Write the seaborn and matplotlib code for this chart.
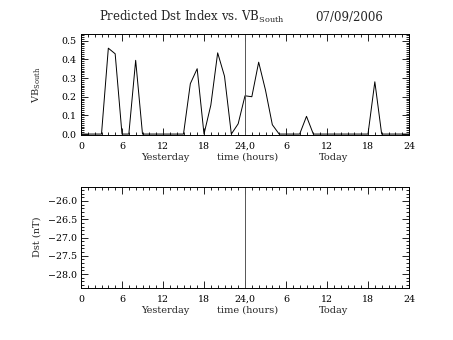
import numpy as np
import pandas as pd
import matplotlib
matplotlib.use("Agg")
import matplotlib.pyplot as plt
import seaborn as sns
from matplotlib.ticker import MultipleLocator, FixedLocator

# ---- data ----
hours = list(range(0, 49))
vb_south = [0, 0, 0, 0, 0.46, 0.43, 0, 0, 0.395, 0,
            0, 0, 0, 0, 0, 0, 0.27, 0.35, 0, 0.155,
            0.435, 0.31, 0, 0.055, 0.205, 0.20, 0.385, 0.235, 0.05, 0,
            0, 0, 0, 0.095, 0, 0, 0, 0, 0, 0,
            0, 0, 0, 0.28, 0, 0, 0, 0, 0]
x_tick_pos = [0, 6, 12, 18, 24, 30, 36, 42, 48]
x_tick_labels = ["0", "6", "12", "18", "24,0", "6", "12", "18", "24"]
top_yticks = [0.0, 0.1, 0.2, 0.3, 0.4, 0.5]
bot_yticks = [-26.0, -26.5, -27.0, -27.5, -28.0]
title_left = r"Predicted Dst Index vs. VB$_{\mathrm{South}}$"
title_date = "07/09/2006"

sns.set_style("ticks")
plt.rcParams['font.family'] = ['DejaVu Serif']
plt.rcParams['mathtext.fontset'] = 'custom'
plt.rcParams['mathtext.rm'] = 'DejaVu Serif'
plt.rcParams['mathtext.default'] = 'regular'

W, H = 453, 340
fig = plt.figure(figsize=(W / 100, H / 100), dpi=100)
left, right = 81, 409
ax1 = fig.add_axes([left / W, 1 - 135 / H, (right - left) / W, 101 / H])
ax2 = fig.add_axes([left / W, 1 - 288 / H, (right - left) / W, 101 / H])

df = pd.DataFrame({"hour": hours, "vb": vb_south})
sns.lineplot(data=df, x="hour", y="vb", ax=ax1, color="black", linewidth=0.7)

ax1.set_ylim(-0.005, 0.536)
ax2.set_ylim(-28.38, -25.62)

for ax in (ax1, ax2):
    ax.set_xlim(0, 48)
    ax.axvline(24, color="#555555", linewidth=0.7)
    ax.xaxis.set_major_locator(FixedLocator(x_tick_pos))
    ax.set_xticklabels(x_tick_labels)
    ax.xaxis.set_minor_locator(MultipleLocator(1))
    ax.tick_params(which="both", direction="in", top=True, right=True,
                   width=0.6, colors="black", labelsize=6.8)
    ax.tick_params(which="major", length=5)
    ax.tick_params(which="minor", length=2.5)
    ax.tick_params(axis="x", pad=5)
    ax.tick_params(axis="y", pad=3)
    for s in ax.spines.values():
        s.set_linewidth(0.7)
        s.set_color("black")
    ax.set_xlabel("")
    ax.set_ylabel("")
    tr = ax.get_xaxis_transform()
    ax.text(12.4, -0.22, "Yesterday", transform=tr, ha="center", va="center", fontsize=7)
    ax.text(24.4, -0.22, "time (hours)", transform=tr, ha="center", va="center", fontsize=7)
    ax.text(37.0, -0.22, "Today", transform=tr, ha="center", va="center", fontsize=7)

ax1.yaxis.set_major_locator(FixedLocator(top_yticks))
ax1.set_yticklabels([f"{v:.1f}" for v in top_yticks])
ax1.yaxis.set_minor_locator(MultipleLocator(0.01))
ax2.yaxis.set_major_locator(FixedLocator(bot_yticks))
ax2.set_yticklabels([f"\u2212{abs(v):.1f}" for v in bot_yticks])
ax2.yaxis.set_minor_locator(MultipleLocator(0.1))

fig.text(37 / W, 1 - 85 / H, r"VB$_{\mathrm{South}}$", rotation=90, ha="center", va="center", fontsize=7)
fig.text(37 / W, 1 - 237 / H, "Dst (nT)", rotation=90, ha="center", va="center", fontsize=7)

fig.text(99 / W, 1 - 21 / H, title_left, ha="left", va="baseline", fontsize=8.5)
fig.text(383 / W, 1 - 21 / H, title_date, ha="right", va="baseline", fontsize=8.5)

fig.savefig("out.png", dpi=100, facecolor="white")
